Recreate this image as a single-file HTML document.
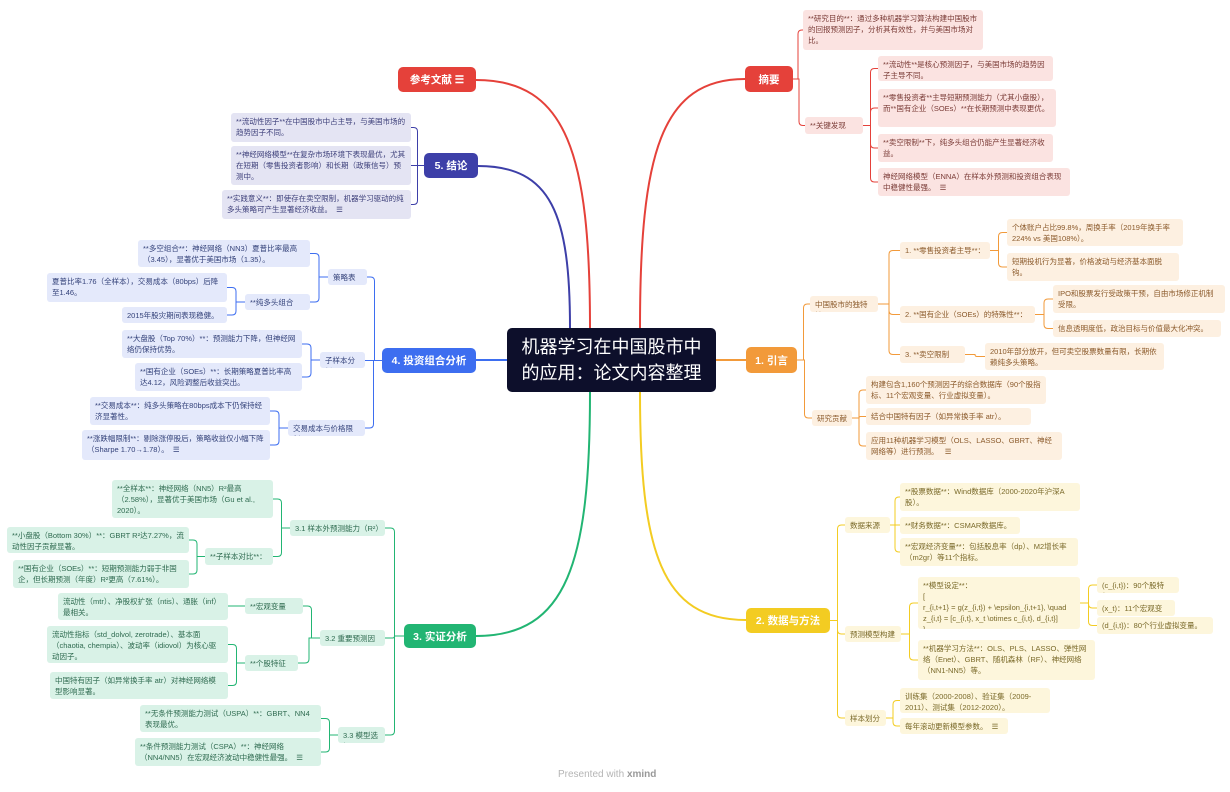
<!DOCTYPE html>
<html><head><meta charset="utf-8">
<style>
html,body{margin:0;padding:0;background:#fff;}
#wrap{position:relative;width:1230px;height:792px;overflow:hidden;font-family:"Liberation Sans","Noto Sans CJK SC",sans-serif;}
.n{position:absolute;box-sizing:border-box;border-radius:3px;font-size:7.5px;line-height:11px;padding:3px 5px;overflow:hidden;}
.m{position:absolute;box-sizing:border-box;border-radius:5px;color:#fff;font-size:10.5px;font-weight:bold;display:flex;align-items:center;justify-content:center;}
svg{position:absolute;left:0;top:0;}
</style></head><body><div id="wrap">
<svg id="s" width="1230" height="792"></svg>
<div class="m" style="left:507px;top:328px;width:209px;height:64px;background:#0d0f2b;font-size:18px;line-height:26px;font-weight:normal;text-align:left;padding:0 9px;justify-content:center;white-space:nowrap;">机器学习在中国股市中<br>的应用：论文内容整理</div>
<div style="position:absolute;left:558px;top:769px;font-size:10px;color:#b5b5b5;">Presented with <b style="color:#999">xmind</b></div>
</div>
<script>
var W=document.getElementById('wrap'),S=document.getElementById('s');
var T={red:['#e5413a','#fbe3e1','#7a3b36'],ora:['#f29a3a','#fdf0e1','#8b5a2b'],yel:['#f3cc22','#fdf6dc','#7a6a2a'],grn:['#22b573','#d9f2e7','#2f6b50'],blu:['#3d6ef0','#e4e9fb','#34427a'],nav:['#3d3fa8','#e4e4f3','#3d3f7a']};
function path(d,c,w){var p=document.createElementNS('http://www.w3.org/2000/svg','path');p.setAttribute('d',d);p.setAttribute('stroke',c);p.setAttribute('stroke-width',w||1.3);p.setAttribute('fill','none');S.appendChild(p);}
function main(t,x,y,w,h,txt){var d=document.createElement('div');d.className='m';d.style.cssText='left:'+x+'px;top:'+y+'px;width:'+w+'px;height:'+h+'px;background:'+T[t][0];d.textContent=txt;W.appendChild(d);return {x:x,y:y,w:w,h:h,t:t};}
function node(t,x,y,w,h,txt){var d=document.createElement('div');d.className='n';d.style.cssText='left:'+x+'px;top:'+y+'px;width:'+w+'px;height:'+h+'px;background:'+T[t][1]+';color:'+T[t][2];d.textContent=txt;W.appendChild(d);return {x:x,y:y,w:w,h:h,t:t};}
function con(p,ch,side){var c=T[p.t][0];var pcy=p.y+p.h/2;var px=side>0?p.x+p.w:p.x;
 ch.forEach(function(k){var cx=side>0?k.x:k.x+k.w;var cy=k.y+k.h/2;var xm=px+side*Math.min(12,Math.abs(cx-px)/2);
  var r=Math.min(4,Math.abs(cy-pcy));var sy=cy>pcy?1:-1;
  if(Math.abs(cy-pcy)<1){path('M'+px+' '+pcy+'H'+cx,c,1);}
  else path('M'+px+' '+pcy+'H'+xm+'V'+(cy-sy*r)+'Q'+xm+' '+cy+' '+(xm+side*r)+' '+cy+'H'+cx,c,1);});}
function bez(x1,y1,x2,y2,c){path('M'+x1+' '+y1+'C'+x1+' '+(y1+(y2-y1)*0.7)+' '+(x1+(x2-x1)*0.2)+' '+y2+' '+x2+' '+y2,c,2);}
var ref=main('red',398,67,78,25,'参考文献 ☰'),abs=main('red',745,66,48,26,'摘要'),con5=main('nav',424,153,54,25,'5. 结论'),p4=main('blu',382,348,94,25,'4. 投资组合分析'),i1=main('ora',746,347,51,26,'1. 引言'),e3=main('grn',404,624,72,24,'3. 实证分析'),d2=main('yel',746,608,84,25,'2. 数据与方法');
bez(590,328,476,80,T.red[0]);bez(640,328,745,79,T.red[0]);bez(570,328,478,166,T.nav[0]);
path('M507 360H476',T.blu[0],2);path('M716 360H746',T.ora[0],2);
bez(590,392,476,636,T.grn[0]);bez(640,392,746,620,T.yel[0]);
var a1=node('red',803,10,180,40,'**研究目的**：通过多种机器学习算法构建中国股市的回报预测因子，分析其有效性，并与美国市场对比。');
var a2=node('red',805,117,58,17,'**关键发现**：');
con(abs,[a1,a2],1);
con(a2,[node('red',878,56,175,25,'**流动性**是核心预测因子，与美国市场的趋势因子主导不同。'),node('red',878,89,178,38,'**零售投资者**主导短期预测能力（尤其小盘股），而**国有企业（SOEs）**在长期预测中表现更优。'),node('red',878,134,175,28,'**卖空限制**下，纯多头组合仍能产生显著经济收益。'),node('red',878,168,192,28,'神经网络模型（ENNA）在样本外预测和投资组合表现中稳健性最强。  ☰')],1);
var b1=node('ora',810,296,68,16,'中国股市的独特性'),b2=node('ora',812,410,40,16,'研究贡献');
con(i1,[b1,b2],1);
var c1=node('ora',900,242,90,17,'1. **零售投资者主导**：'),c2=node('ora',900,306,135,17,'2. **国有企业（SOEs）的特殊性**：'),c3=node('ora',900,346,65,17,'3. **卖空限制**：');
con(b1,[c1,c2,c3],1);
con(c1,[node('ora',1007,219,176,27,'个体账户占比99.8%，周换手率（2019年换手率224% vs 美国108%）。'),node('ora',1007,253,172,28,'短期投机行为显著，价格波动与经济基本面脱钩。')],1);
con(c2,[node('ora',1053,285,172,28,'IPO和股票发行受政策干预，自由市场修正机制受限。'),node('ora',1053,320,168,17,'信息透明度低，政治目标与价值最大化冲突。')],1);
con(c3,[node('ora',985,343,179,27,'2010年部分放开，但可卖空股票数量有限，长期依赖纯多头策略。')],1);
con(b2,[node('ora',866,376,180,28,'构建包含1,160个预测因子的综合数据库（90个股指标、11个宏观变量、行业虚拟变量）。'),node('ora',866,408,165,17,'结合中国特有因子（如异常换手率 atr）。'),node('ora',866,432,196,28,'应用11种机器学习模型（OLS、LASSO、GBRT、神经网络等）进行预测。   ☰')],1);
var f1=node('yel',845,517,45,16,'数据来源'),f2=node('yel',845,626,56,16,'预测模型构建'),f3=node('yel',845,710,41,16,'样本划分');
con(d2,[f1,f2,f3],1);
con(f1,[node('yel',900,483,180,28,'**股票数据**：Wind数据库（2000-2020年沪深A股）。'),node('yel',900,517,120,17,'**财务数据**：CSMAR数据库。'),node('yel',900,538,178,28,'**宏观经济变量**：包括股息率（dp）、M2增长率（m2gr）等11个指标。')],1);
var g1=node('yel',918,577,162,52,'**模型设定**：\n[\nr_{i,t+1} = g(z_{i,t}) + \\epsilon_{i,t+1}, \\quad z_{i,t} = [c_{i,t}, x_t \\otimes c_{i,t}, d_{i,t}]\n]');
var g2=node('yel',918,640,177,40,'**机器学习方法**：OLS、PLS、LASSO、弹性网络（Enet）、GBRT、随机森林（RF）、神经网络（NN1-NN5）等。');
con(f2,[g1,g2],1);
con(g1,[node('yel',1097,577,82,16,'(c_{i,t})：90个股特征。'),node('yel',1097,600,78,16,'(x_t)：11个宏观变量。'),node('yel',1097,617,116,17,'(d_{i,t})：80个行业虚拟变量。')],1);
con(f3,[node('yel',900,688,150,25,'训练集（2000-2008）、验证集（2009-2011）、测试集（2012-2020）。'),node('yel',900,718,108,16,'每年滚动更新模型参数。  ☰')],1);
con(con5,[node('nav',231,113,180,29,'**流动性因子**在中国股市中占主导，与美国市场的趋势因子不同。'),node('nav',231,146,180,39,'**神经网络模型**在复杂市场环境下表现最优，尤其在短期（零售投资者影响）和长期（政策信号）预测中。'),node('nav',222,190,189,29,'**实践意义**：即使存在卖空限制，机器学习驱动的纯多头策略可产生显著经济收益。  ☰')],-1);
var q1=node('blu',328,269,39,16,'策略表现'),q2=node('blu',320,352,45,16,'子样本分析'),q3=node('blu',288,420,77,16,'交易成本与价格限制');
con(p4,[q1,q2,q3],-1);
var q11=node('blu',138,240,172,27,'**多空组合**：神经网络（NN3）夏普比率最高（3.45），显著优于美国市场（1.35）。'),q12=node('blu',245,294,65,16,'**纯多头组合**：');
con(q1,[q11,q12],-1);
con(q12,[node('blu',47,273,180,29,'夏普比率1.76（全样本），交易成本（80bps）后降至1.46。'),node('blu',122,307,105,16,'2015年股灾期间表现稳健。')],-1);
con(q2,[node('blu',122,330,180,28,'**大盘股（Top 70%）**：预测能力下降，但神经网络仍保持优势。'),node('blu',135,363,167,28,'**国有企业（SOEs）**：长期策略夏普比率高达4.12，风险调整后收益突出。')],-1);
con(q3,[node('blu',90,397,180,28,'**交易成本**：纯多头策略在80bps成本下仍保持经济显著性。'),node('blu',82,430,188,30,'**涨跌幅限制**：剔除涨停股后，策略收益仅小幅下降（Sharpe 1.70→1.78）。  ☰')],-1);
var r1=node('grn',290,520,95,16,'3.1 样本外预测能力（R²）'),r2=node('grn',320,630,65,16,'3.2 重要预测因子'),r3=node('grn',338,727,47,16,'3.3 模型选择');
con(e3,[r1,r2,r3],-1);
var r12=node('grn',205,548,68,17,'**子样本对比**：');
con(r1,[node('grn',112,480,161,38,'**全样本**：神经网络（NN5）R²最高（2.58%），显著优于美国市场（Gu et al., 2020）。'),r12],-1);
con(r12,[node('grn',7,527,182,26,'**小盘股（Bottom 30%）**：GBRT R²达7.27%，流动性因子贡献显著。'),node('grn',13,560,176,28,'**国有企业（SOEs）**：短期预测能力弱于非国企，但长期预测（年度）R²更高（7.61%）。')],-1);
var r21=node('grn',245,598,58,16,'**宏观变量**：'),r22=node('grn',245,655,53,16,'**个股特征**：');
con(r2,[r21,r22],-1);
con(r21,[node('grn',58,593,170,27,'流动性（mtr）、净股权扩张（ntis）、通胀（inf）最相关。')],-1);
con(r22,[node('grn',47,626,181,37,'流动性指标（std_dolvol, zerotrade）、基本面（chaotia, chempia）、波动率（idiovol）为核心驱动因子。'),node('grn',50,672,178,27,'中国特有因子（如异常换手率 atr）对神经网络模型影响显著。')],-1);
con(r3,[node('grn',140,705,181,27,'**无条件预测能力测试（USPA）**：GBRT、NN4表现最优。'),node('grn',135,738,186,28,'**条件预测能力测试（CSPA）**：神经网络（NN4/NN5）在宏观经济波动中稳健性最强。  ☰')],-1);
document.querySelectorAll('.n').forEach(function(e){e.style.whiteSpace='pre-wrap';});
</script></body></html>
